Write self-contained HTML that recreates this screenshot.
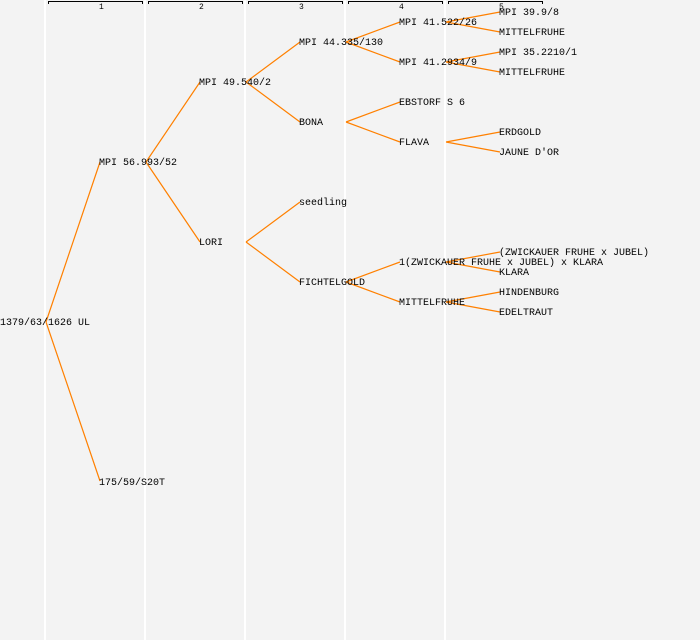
<!DOCTYPE html>
<html><head><meta charset="utf-8"><style>
html,body{margin:0;padding:0;background:#f3f3f3;}
svg{display:block;}
text{font-family:"Liberation Mono","DejaVu Sans Mono",monospace;font-size:10px;fill:#000;}
.n{font-size:8px;}
</style></head><body>
<svg width="700" height="640" xmlns="http://www.w3.org/2000/svg">
<rect width="700" height="640" fill="#f3f3f3"/>
<g stroke="#ffffff" stroke-width="2">
<line x1="45" y1="0" x2="45" y2="640"/><line x1="145" y1="0" x2="145" y2="640"/>
<line x1="245" y1="0" x2="245" y2="640"/><line x1="345" y1="0" x2="345" y2="640"/>
<line x1="445" y1="0" x2="445" y2="640"/>
</g>
<g stroke="#000" stroke-width="1" fill="none" shape-rendering="crispEdges">
<path d="M48.5 4V1.5H142.5V4"/><path d="M148.5 4V1.5H242.5V4"/><path d="M248.5 4V1.5H342.5V4"/>
<path d="M348.5 4V1.5H442.5V4"/><path d="M448.5 4V1.5H542.5V4"/>
</g>
<g class="n"><text class="n" x="99" y="9">1</text><text class="n" x="199" y="9">2</text><text class="n" x="299" y="9">3</text><text class="n" x="399" y="9">4</text><text class="n" x="499" y="9">5</text></g>
<g stroke="#ff8000" stroke-width="1.2" fill="none">
<path d="M46 322L100 162M46 322L100 481"/>
<path d="M146 162L200 82M146 162L200 242"/>
<path d="M246 82L300 42M246 82L300 122M246 242L300 202M246 242L300 282"/>
<path d="M346 42L400 22M346 42L400 62M346 122L400 102M346 122L400 142M346 282L400 262M346 282L400 302"/>
<path d="M446 22L500 12M446 22L500 32M446 62L500 52M446 62L500 72M446 142L500 132M446 142L500 152M446 262L500 252M446 262L500 272M446 302L500 292M446 302L500 312"/>
</g>
<g transform="translate(0,1.5)" dominant-baseline="central">
<text x="0" y="322">1379/63/1626 UL</text>
<text x="99" y="162">MPI 56.993/52</text>
<text x="99" y="482">175/59/S20T</text>
<text x="199" y="82">MPI 49.540/2</text>
<text x="199" y="242">LORI</text>
<text x="299" y="42">MPI 44.335/130</text>
<text x="299" y="122">BONA</text>
<text x="299" y="202">seedling</text>
<text x="299" y="282">FICHTELGOLD</text>
<text x="399" y="22">MPI 41.522/26</text>
<text x="399" y="62">MPI 41.2934/9</text>
<text x="399" y="102">EBSTORF S 6</text>
<text x="399" y="142">FLAVA</text>
<text x="399" y="262">1(ZWICKAUER FRUHE x JUBEL) x KLARA</text>
<text x="399" y="302">MITTELFRUHE</text>
<text x="499" y="12">MPI 39.9/8</text>
<text x="499" y="32">MITTELFRUHE</text>
<text x="499" y="52">MPI 35.2210/1</text>
<text x="499" y="72">MITTELFRUHE</text>
<text x="499" y="132">ERDGOLD</text>
<text x="499" y="152">JAUNE D'OR</text>
<text x="499" y="252">(ZWICKAUER FRUHE x JUBEL)</text>
<text x="499" y="272">KLARA</text>
<text x="499" y="292">HINDENBURG</text>
<text x="499" y="312">EDELTRAUT</text>
</g>
</svg>
</body></html>
